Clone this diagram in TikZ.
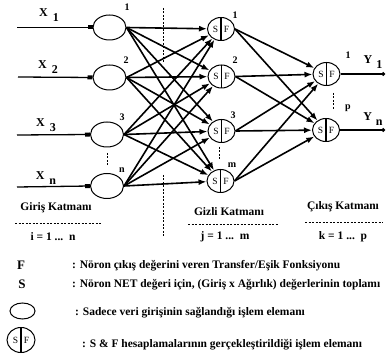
\documentclass[tikz,border=0pt]{standalone}
\usepackage{fontspec}
\setmainfont{Liberation Serif}
\usetikzlibrary{arrows.meta,shapes.geometric}
\begin{document}
\begin{tikzpicture}[x=1pt,y=-1pt,
 inel/.style={ellipse, draw, line width=1pt, minimum width=33pt, minimum height=25pt, inner sep=0pt},
 sfel/.style={ellipse, draw, line width=1pt, minimum width=27pt, minimum height=23pt, inner sep=0pt,
   path picture={
     \draw[line width=1.1pt] (path picture bounding box.north) -- (path picture bounding box.south);
     \node[font=\fontsize{9.5}{10}\selectfont, inner sep=0pt] at ([xshift=-5.5pt]path picture bounding box.center) {S};
     \node[font=\fontsize{9.5}{10}\selectfont, inner sep=0pt] at ([xshift=5.5pt]path picture bounding box.center) {F};}},
 conn/.style={line width=1.6pt, -{Latex[length=8pt,width=6pt]}},
 inline/.style={line width=1.3pt, -{Square[length=5pt,width=4pt]}},
 outline/.style={line width=1.3pt, -{Circle[length=3.5pt]}},
 dsh/.style={line width=0.8pt, dash pattern=on 2pt off 1.5pt},
 num/.style={font=\bfseries\fontsize{10}{11}\selectfont, inner sep=0pt},
 xl/.style={font=\bfseries\fontsize{12}{13}\selectfont, inner sep=0pt},
 lay/.style={font=\bfseries\fontsize{11.5}{13}\selectfont, inner sep=0pt},
 leg/.style={font=\bfseries\fontsize{11.5}{13}\selectfont, inner sep=0pt, anchor=west}
]
\useasboundingbox (0,0) rectangle (386,363);

% input layer
\node[inel] (i1) at (109.5,27.5) {};
\node[inel] (i2) at (109.5,77.5) {};
\node[inel] (i3) at (107,134.5) {};
\node[inel] (i4) at (107,186) {};
\coordinate (s1) at (17,27.5);
\coordinate (s2) at (18,77);
\coordinate (s3) at (17,135);
\coordinate (s4) at (17,187);
\foreach \k in {1,2,3,4}{\draw[inline] (s\k) -- (i\k.west);}

\node[xl] (x1) at (49,15) {X\hspace{5pt}\raisebox{-5pt}{1}};
\node[xl] (x2) at (48,67) {X\hspace{5pt}\raisebox{-5pt}{2}};
\node[xl] (x3) at (46,125) {X\hspace{5pt}\raisebox{-5pt}{3}};
\node[xl] (x4) at (46,178) {X\hspace{5pt}\raisebox{-5pt}{n}};

\node[num] (li1) at (127,7) {1};
\node[num] (li2) at (126,60) {2};
\node[num] (li3) at (122,117) {3};
\node[num] (li4) at (122,170) {n};

% hidden layer
\node[sfel] (h1) at (221,29) {};
\node[sfel] (h2) at (221.5,76.5) {};
\node[sfel] (h3) at (221.5,131) {};
\node[sfel] (h4) at (220.5,181) {};
\node[num] (lh1) at (235,15) {1};
\node[num] (lh2) at (235,60) {2};
\node[num] (lh3) at (233,115) {3};
\node[num] (lh4) at (232,165) {m};

% output layer
\node[sfel] (o1) at (326.5,74) {};
\node[sfel] (o2) at (326,130) {};
\node[num] (lo1) at (348,55) {1};
\node[num] (lo2) at (348,108) {p};
\coordinate (e1) at (385,74);
\coordinate (e2) at (385,130);
\draw[outline] (o1.east) -- (e1);
\draw[outline] (o2.east) -- (e2);
\node[xl] (y1) at (373,62) {Y\hspace{4pt}\raisebox{-5pt}{1}};
\node[xl] (y2) at (373,119) {Y\hspace{4pt}\raisebox{-5pt}{n}};

% connections
\foreach \a in {1,2,3,4}{
  \foreach \b in {1,2,3,4}{\draw[conn] (i\a.east) -- (h\b);}
  \foreach \c in {1,2}{\draw[conn] (h\a.east) -- (o\c);}
}

% dashed separators
\coordinate (d1a) at (163,8); \coordinate (d1b) at (163,62);
\coordinate (d2a) at (163,175); \coordinate (d2b) at (163,238);
\coordinate (d3a) at (107,153); \coordinate (d3b) at (107,167);
\coordinate (d4a) at (219,147); \coordinate (d4b) at (219,160);
\coordinate (d5a) at (333,93); \coordinate (d5b) at (333,110);
\draw[dsh] (d1a) -- (d1b);
\draw[dsh] (d2a) -- (d2b);
\draw[dsh] (d3a) -- (d3b);
\draw[dsh] (d4a) -- (d4b);
\draw[dsh] (d5a) -- (d5b);

% layer captions
\node[lay] (g1) at (56,208) {Giriş Katmanı};
\node[lay] (g2) at (229,212) {Gizli Katmanı};
\node[lay] (g3) at (343,207) {Çıkış Katmanı};
\coordinate (u1a) at (15,223); \coordinate (u1b) at (102,223);
\coordinate (u2a) at (188,224); \coordinate (u2b) at (278,224);
\coordinate (u3a) at (305,222); \coordinate (u3b) at (383,222);
\draw[dsh] (u1a) -- (u1b);
\draw[dsh] (u2a) -- (u2b);
\draw[dsh] (u3a) -- (u3b);
\node[lay] (r1) at (53,237) {i = 1 ...\ \ n};
\node[lay] (r2) at (225,237) {j = 1 ...\ \ m};
\node[lay] (r3) at (343,237) {k = 1 ...\ \ p};

% legend
\node[font=\bfseries\fontsize{13}{14}\selectfont, inner sep=0pt] (lf) at (21,265) {F};
\node[leg] (tf) at (72,266) {: Nöron çıkış değerini veren Transfer/Eşik Fonksiyonu};
\node[font=\bfseries\fontsize{13}{14}\selectfont, inner sep=0pt] (ls) at (22,284) {S};
\node[leg] (ts) at (72,285) {: Nöron NET değeri için, (Giriş x Ağırlık) değerlerinin toplamı};
\node[ellipse, draw, line width=1pt, minimum width=25pt, minimum height=16pt, inner sep=0pt] (le) at (22.5,311) {};
\node[leg] (te) at (75,313) {: Sadece veri girişinin sağlandığı işlem elemanı};
\node[sfel, minimum width=28pt, minimum height=25pt] (lc) at (21,340) {};
\node[leg] (tc) at (82,345) {: S \& F hesaplamalarının gerçekleştirildiği işlem elemanı};
\end{tikzpicture}
\end{document}
